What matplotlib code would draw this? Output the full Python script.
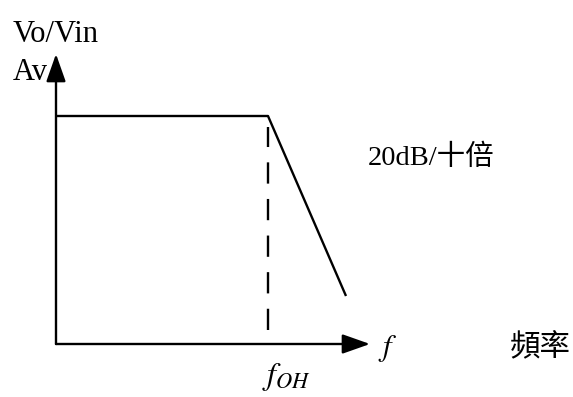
import matplotlib
matplotlib.use("Agg")
import matplotlib.pyplot as plt

plt.rcParams["font.family"] = ["Liberation Serif", "Noto Sans CJK TC"]
plt.rcParams["mathtext.fontset"] = "stix"

# schematic response (pixel-like units, origin at the axes corner)
freq_pts = [0, 212, 290]
gain_pts = [228, 228, 48]
corner_freq = 212
dash_range = [14, 217]
x_axis_end = 314
y_axis_end = 290

y_label = "Vo/Vin"
gain_label = "Av"
slope_label = "20dB/十倍"
x_label = "頻率"

fig = plt.figure(figsize=(5.73, 3.97), dpi=100)
ax = fig.add_axes([0, 0, 1, 1])
ax.set_xlim(-56, 517)
ax.set_ylim(-53, 344)
ax.axis("off")

lw = 1.7
head = dict(arrowstyle="-|>,head_length=17,head_width=6", mutation_scale=1,
            lw=lw, color="black", shrinkA=0, shrinkB=0)
ax.annotate("", xy=(0, y_axis_end), xytext=(0, 0), arrowprops=head)
ax.annotate("", xy=(x_axis_end, 0), xytext=(0, 0), arrowprops=head)

ax.plot(freq_pts, gain_pts, color="black", lw=lw, solid_capstyle="butt")
ax.plot([corner_freq, corner_freq], dash_range, color="black", lw=lw,
        dashes=(9, 6.5))

ax.text(-43, 310, y_label, fontsize=22, ha="left", va="center")
ax.text(-43, 272, gain_label, fontsize=22, ha="left", va="center")
ax.text(312, 186, slope_label, fontsize=20.5, ha="left", va="center")
ax.text(322, -4, "$f$", fontsize=22, ha="left", va="center")
ax.text(454, -5, x_label, fontsize=22, ha="left", va="center")
ax.text(206, -33, "$f_{OH}$", fontsize=23, ha="left", va="center")

fig.savefig("out.png", dpi=100)
